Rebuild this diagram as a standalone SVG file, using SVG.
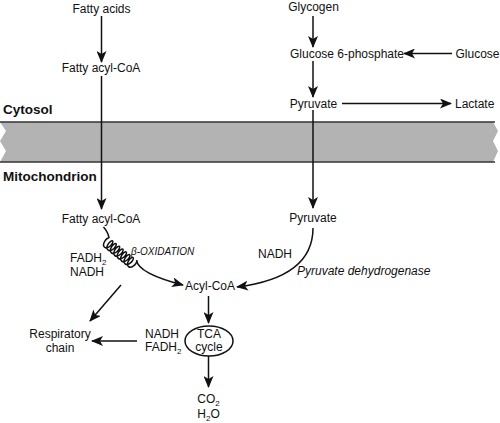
<svg xmlns="http://www.w3.org/2000/svg" width="500" height="423" viewBox="0 0 500 423">
<style>
text{font-family:"Liberation Sans",Arial,sans-serif;font-size:12px;fill:#111}
.c{text-anchor:middle}
.b{font-weight:bold;font-size:13.5px}
.i{font-style:italic}
.s{font-size:8px}
.ln{fill:none;stroke:#111;stroke-width:1.5}
.ar{fill:none;stroke:#111;stroke-width:1.5;marker-end:url(#ah)}
</style>
<defs>
<marker id="ah" viewBox="0 0 12 10" refX="11" refY="5" markerWidth="12" markerHeight="10" markerUnits="userSpaceOnUse" orient="auto">
<path d="M0,0 L12,5 L0,10 L3,5 Z" fill="#111"/>
</marker>
</defs>
<g id="membrane">
<polygon points="0,122 493,122 498,131 493,141 498,151 493,162 0,162 6,151 0,141 6,131" fill="#b3b3b3"/>
<line x1="0" y1="122" x2="495" y2="122" stroke="#333" stroke-width="1.5"/>
<line x1="0" y1="162" x2="495" y2="162" stroke="#333" stroke-width="1.5"/>
<text x="3" y="114" class="b">Cytosol</text>
<text x="3" y="181" class="b">Mitochondrion</text>
</g>
<g id="connectors">
<line x1="101.5" y1="16" x2="101.5" y2="62" class="ar"/>
<line x1="101.5" y1="76" x2="101.5" y2="209" class="ar"/>
<line x1="313" y1="16" x2="313" y2="47" class="ar"/>
<line x1="452" y1="53.5" x2="404" y2="53.5" class="ar"/>
<line x1="313" y1="61" x2="313" y2="97" class="ar"/>
<line x1="342" y1="103.5" x2="451" y2="103.5" class="ar"/>
<line x1="313" y1="110" x2="313" y2="208" class="ar"/>
<path d="M313,228 C313,262 285,281 237,287" class="ar"/>
<path d="M103.5,227 Q108,232 109.1,238.1" class="ln"/>
<g transform="translate(106,242) rotate(39)">
<path class="ln" d="M0,-5 c-0.995,0 -1.867,2.382 -1.5,5 c0.367,2.618 1.972,5 3.7,5 c1.728,0 3.333,-2.382 3.7,-5 c0.367,-2.618 -0.505,-5 -1.5,-5 c-0.995,0 -1.867,2.382 -1.5,5 c0.367,2.618 1.972,5 3.7,5 c1.728,0 3.333,-2.382 3.7,-5 c0.367,-2.618 -0.505,-5 -1.5,-5 c-0.995,0 -1.867,2.382 -1.5,5 c0.367,2.618 1.972,5 3.7,5 c1.728,0 3.333,-2.382 3.7,-5 c0.367,-2.618 -0.505,-5 -1.5,-5 c-0.995,0 -1.867,2.382 -1.5,5 c0.367,2.618 1.972,5 3.7,5 c1.728,0 3.333,-2.382 3.7,-5 c0.367,-2.618 -0.505,-5 -1.5,-5 c-0.995,0 -1.867,2.382 -1.5,5 c0.367,2.618 1.972,5 3.7,5 c1.728,0 3.333,-2.382 3.7,-5 c0.367,-2.618 -0.505,-5 -1.5,-5 c-0.995,0 -1.867,2.382 -1.5,5 c0.367,2.618 1.972,5 3.7,5 c1.728,0 3.333,-2.382 3.7,-5 c0.367,-2.618 -0.505,-5 -1.5,-5 c-0.995,0 -1.867,2.382 -1.5,5 c0.367,2.618 1.972,5 3.7,5 c1.728,0 3.333,-2.382 3.7,-5 c0.367,-2.618 -0.505,-5 -1.5,-5 c-0.995,0 -1.867,2.382 -1.5,5 c0.367,2.618 1.972,5 3.7,5 c1.728,0 3.333,-2.382 3.7,-5 c0.367,-2.618 -0.505,-5 -1.5,-5"/>
</g>
<path d="M136.5,260.3 C138,271 160,279 183,285" class="ar"/>
<line x1="121" y1="285" x2="90" y2="321" class="ar"/>
<line x1="208.5" y1="296" x2="208.5" y2="323" class="ar"/>
<line x1="208.5" y1="356" x2="208.5" y2="387" class="ar"/>
<line x1="137" y1="341" x2="92" y2="341" class="ar"/>
</g>
<g id="n-fattyacids"><text x="101.5" y="12.5" class="c">Fatty acids</text></g>
<g id="n-fattyacylcoa-cyt"><text x="101" y="72" class="c">Fatty acyl-CoA</text></g>
<g id="n-glycogen"><text x="313.5" y="11" class="c">Glycogen</text></g>
<g id="n-g6p"><text x="347" y="57.5" class="c">Glucose 6-phosphate</text></g>
<g id="n-glucose"><text x="455.5" y="57.5">Glucose</text></g>
<g id="n-pyruvate-cyt"><text x="313.5" y="107.5" class="c">Pyruvate</text></g>
<g id="n-lactate"><text x="455" y="107.5">Lactate</text></g>
<g id="n-fattyacylcoa-mit"><text x="101" y="223" class="c">Fatty acyl-CoA</text></g>
<g id="n-pyruvate-mit"><text x="313" y="221.5" class="c">Pyruvate</text></g>
<g id="l-betaox">
<text x="70" y="261.5">FADH<tspan class="s" dy="3">2</tspan></text>
<text x="70" y="276">NADH</text>
<text x="131" y="255" class="i" style="font-size:10px">β-OXIDATION</text>
</g>
<g id="l-pdh">
<text x="258" y="258">NADH</text>
<text x="297" y="275" class="i">Pyruvate dehydrogenase</text>
</g>
<g id="n-acylcoa"><text x="210" y="289.5" class="c">Acyl-CoA</text></g>
<g id="n-tca">
<ellipse cx="209" cy="341" rx="24" ry="15" fill="none" stroke="#111" stroke-width="1.5"/>
<text x="209" y="338" class="c">TCA</text>
<text x="209" y="351" class="c">cycle</text>
</g>
<g id="l-tca-products">
<text x="145" y="337.5">NADH</text>
<text x="145" y="351">FADH<tspan class="s" dy="3">2</tspan></text>
</g>
<g id="n-resp">
<text x="60" y="338" class="c">Respiratory</text>
<text x="60" y="352" class="c">chain</text>
</g>
<g id="n-co2">
<text x="208.5" y="403" class="c">CO<tspan class="s" dy="3">2</tspan></text>
<text x="208.5" y="417.5" class="c">H<tspan class="s" dy="3">2</tspan><tspan dy="-3">O</tspan></text>
</g>
</svg>
